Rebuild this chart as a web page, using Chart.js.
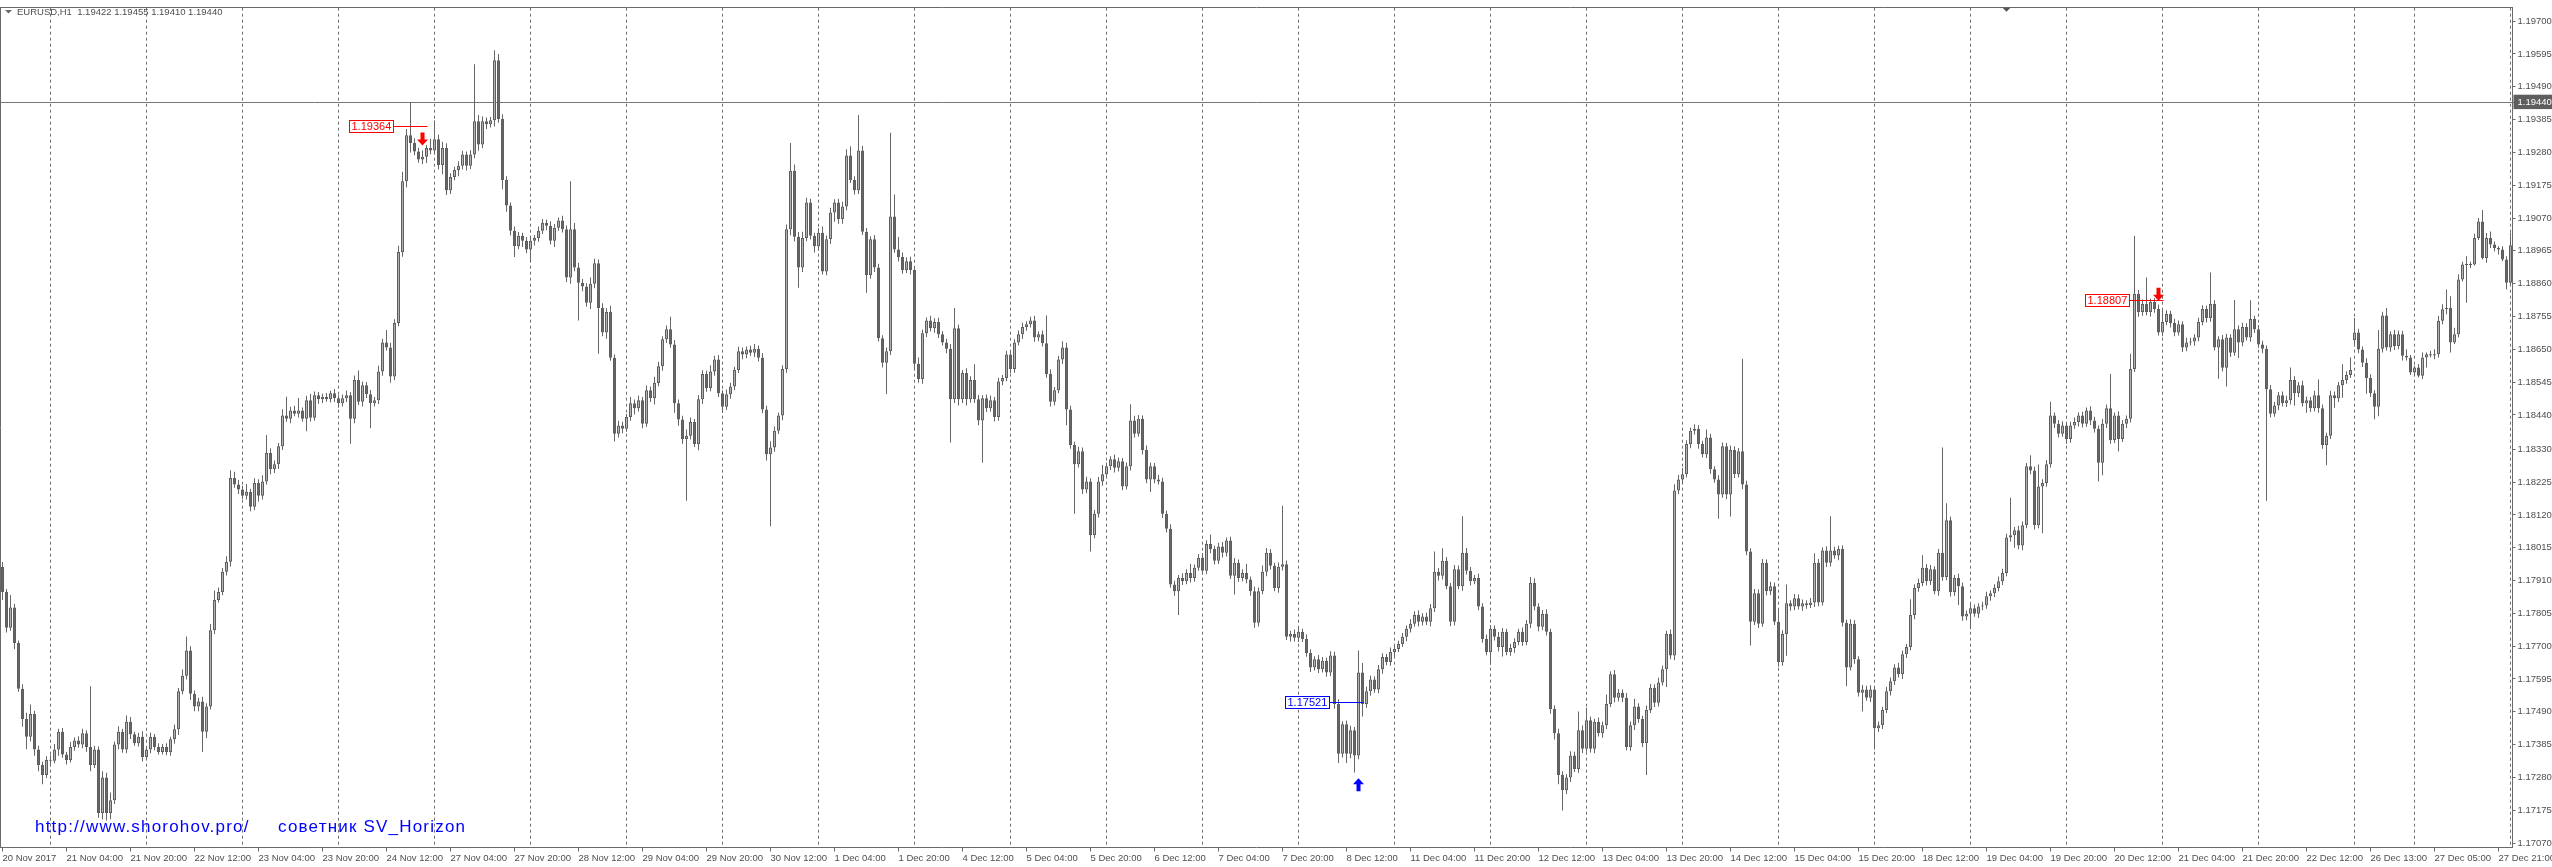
<!DOCTYPE html>
<html>
<head>
<meta charset="utf-8">
<title>EURUSD,H1</title>
<script src="https://cdn.jsdelivr.net/npm/chart.js@4.4.0/dist/chart.umd.min.js"></script>
<style>
  html, body { margin: 0; padding: 0; background: #ffffff; }
  canvas { display: block; }
</style>
</head>
<body>
<canvas id="chart" width="2552" height="867"></canvas>
<script>
// EURUSD H1 bars, values in points above 1.17000 (1 point = 0.00001)
const basePrice = 1.17;

const opens = [
  954,873,759,824,710,564,467,410,483,369,
  320,288,336,333,369,426,353,336,377,398,
  385,421,377,320,369,166,280,166,207,385,
  426,369,458,418,389,410,345,369,410,377,
  361,377,361,402,434,556,605,686,548,507,
  523,426,507,751,848,873,938,970,1238,1217,
  1201,1181,1194,1146,1222,1181,1227,1318,1266,1282,
  1340,1438,1428,1454,1444,1454,1428,1487,1431,1503,
  1490,1498,1490,1509,1493,1477,1493,1503,1428,1552,
  1482,1535,1506,1477,1487,1579,1672,1656,1563,1734,
  1961,2188,2335,2310,2283,2257,2266,2294,2286,2322,
  2240,2294,2159,2201,2224,2237,2273,2237,2273,2380,
  2305,2380,2370,2383,2575,2387,2192,2110,2029,1980,
  2013,1997,1969,1997,2006,2029,2055,2045,1997,2039,
  2062,2034,1880,2034,1912,1863,1851,1799,1860,1925,
  1782,1704,1769,1623,1380,1406,1396,1433,1477,1461,
  1487,1412,1519,1493,1542,1596,1682,1714,1665,1477,
  1425,1363,1373,1417,1347,1490,1571,1526,1579,1617,
  1509,1466,1506,1531,1584,1644,1633,1649,1639,1652,
  1623,1457,1314,1336,1389,1438,1587,2034,2221,2010,
  1912,2006,2120,2013,1980,2023,1899,2002,2088,2120,
  2067,2107,2270,2192,2159,2286,2026,1888,2002,1912,
  1685,1607,1644,2075,1969,1945,1904,1932,1904,1604,
  1555,1701,1742,1717,1737,1698,1672,1652,1490,1717,
  1490,1574,1490,1552,1490,1422,1493,1461,1487,1433,
  1547,1558,1633,1587,1672,1698,1721,1730,1742,1688,
  1698,1669,1571,1482,1519,1617,1656,1457,1344,1282,
  1324,1201,1227,1055,1124,1227,1250,1276,1298,1271,
  1292,1211,1276,1422,1380,1428,1328,1233,1276,1233,
  1227,1124,1076,897,876,918,908,934,918,951,
  983,941,1027,1011,973,1019,999,1038,925,967,
  918,934,913,876,775,876,938,999,957,886,
  954,962,730,739,727,746,723,678,632,658,
  626,653,616,670,515,356,450,356,431,350,
  616,515,556,593,561,626,665,649,681,691,
  707,730,756,772,800,778,795,778,821,938,
  925,973,892,778,946,892,999,941,908,918,
  827,723,681,756,730,697,746,681,694,713,
  746,713,772,902,827,762,804,746,499,421,
  288,239,280,350,307,431,372,463,372,458,
  421,447,515,610,535,551,535,377,447,507,
  467,389,496,567,519,584,626,739,670,1198,
  1233,1250,1347,1389,1396,1347,1314,1368,1266,1233,
  1185,1340,1185,1328,1250,1324,1217,1003,778,869,
  772,967,876,892,778,649,739,837,827,853,
  827,837,832,840,967,840,1006,967,1006,990,
  1011,775,632,772,658,551,561,535,561,437,
  447,496,556,588,632,610,674,697,800,886,
  902,951,908,946,876,999,921,1103,873,918,
  892,795,804,821,804,827,830,860,869,886,
  908,934,1048,1055,1071,1022,1087,1276,1262,1087,
  1211,1222,1282,1438,1412,1380,1406,1363,1406,1417,
  1438,1412,1454,1422,1396,1287,1412,1461,1360,1438,
  1363,1412,1428,1587,1828,1769,1795,1769,1802,1779,
  1704,1737,1763,1734,1704,1730,1656,1672,1675,1688,
  1737,1779,1750,1795,1656,1682,1591,1688,1639,1714,
  1672,1721,1688,1747,1714,1665,1652,1522,1444,1470,
  1503,1477,1487,1552,1509,1535,1477,1487,1461,1503,
  1461,1344,1373,1503,1493,1535,1552,1568,1680,1704,
  1649,1607,1558,1509,1466,1652,1758,1656,1698,1660,
  1698,1629,1624,1576,1592,1565,1624,1634,1630,1634,
  1741,1778,1783,1672,1698,1873,1921,1920,1921,2006,
  2059,1942,2006,1985,1974,1969,1937,1863
];

const closes = [
  873,759,824,710,564,467,410,483,369,320,
  288,336,333,369,426,353,336,377,398,385,
  421,377,320,369,166,280,166,207,385,426,
  369,458,418,389,410,345,369,410,377,361,
  377,361,402,434,556,605,686,548,507,523,
  426,507,751,848,873,938,970,1238,1217,1201,
  1181,1194,1146,1222,1181,1227,1318,1266,1282,1340,
  1438,1428,1454,1444,1454,1428,1487,1431,1503,1490,
  1498,1490,1509,1493,1477,1493,1503,1428,1552,1482,
  1535,1506,1477,1487,1579,1672,1656,1563,1734,1961,
  2188,2335,2310,2283,2257,2266,2294,2286,2322,2240,
  2294,2159,2201,2224,2237,2273,2237,2273,2380,2305,
  2380,2370,2383,2575,2387,2192,2110,2029,1980,2013,
  1997,1969,1997,2006,2029,2055,2045,1997,2039,2062,
  2034,1880,2034,1912,1863,1851,1799,1860,1925,1782,
  1704,1769,1623,1380,1406,1396,1433,1477,1461,1487,
  1412,1519,1493,1542,1596,1682,1714,1665,1477,1425,
  1363,1373,1417,1347,1490,1571,1526,1579,1617,1509,
  1466,1506,1531,1584,1644,1633,1649,1639,1652,1623,
  1457,1314,1336,1389,1438,1587,2034,2221,2010,1912,
  2006,2120,2013,1980,2023,1899,2002,2088,2120,2067,
  2107,2270,2192,2159,2286,2026,1888,2002,1912,1685,
  1607,1644,2075,1969,1945,1904,1932,1904,1604,1555,
  1701,1742,1717,1737,1698,1672,1652,1490,1717,1490,
  1574,1490,1552,1490,1422,1493,1461,1487,1433,1547,
  1558,1633,1587,1672,1698,1721,1730,1742,1688,1698,
  1669,1571,1482,1519,1617,1656,1457,1344,1282,1324,
  1201,1227,1055,1124,1227,1250,1276,1298,1271,1292,
  1211,1276,1422,1380,1428,1328,1233,1276,1233,1227,
  1124,1076,897,876,918,908,934,918,951,983,
  941,1027,1011,973,1019,999,1038,925,967,918,
  934,913,876,775,876,938,999,957,886,954,
  962,730,739,727,746,723,678,632,658,626,
  653,616,670,515,356,450,356,431,350,616,
  515,556,593,561,626,665,649,681,691,707,
  730,756,772,800,778,795,778,821,938,925,
  973,892,778,946,892,999,941,908,918,827,
  723,681,756,730,697,746,681,694,713,746,
  713,772,902,827,762,804,746,499,421,288,
  239,280,350,307,431,372,463,372,458,421,
  447,515,610,535,551,535,377,447,507,467,
  389,496,567,519,584,626,739,670,1198,1233,
  1250,1347,1389,1396,1347,1314,1368,1266,1233,1185,
  1340,1185,1328,1250,1324,1217,1003,778,869,772,
  967,876,892,778,649,739,837,827,853,827,
  837,832,840,967,840,1006,967,1006,990,1011,
  775,632,772,658,551,561,535,561,437,447,
  496,556,588,632,610,674,697,800,886,902,
  951,908,946,876,999,921,1103,873,918,892,
  795,804,821,804,827,830,860,869,886,908,
  934,1048,1055,1071,1022,1087,1276,1262,1087,1211,
  1222,1282,1438,1412,1380,1406,1363,1406,1417,1438,
  1412,1454,1422,1396,1287,1412,1461,1360,1438,1363,
  1412,1428,1587,1828,1769,1795,1769,1802,1779,1704,
  1737,1763,1734,1704,1730,1656,1672,1675,1688,1737,
  1779,1750,1795,1656,1682,1591,1688,1639,1714,1672,
  1721,1688,1747,1714,1665,1652,1522,1444,1470,1503,
  1477,1487,1552,1509,1535,1477,1487,1461,1503,1461,
  1344,1373,1503,1493,1535,1552,1568,1584,1704,1649,
  1607,1558,1509,1466,1652,1758,1656,1698,1660,1698,
  1629,1624,1576,1592,1565,1624,1634,1630,1634,1741,
  1778,1783,1672,1698,1873,1921,1920,1921,2006,2059,
  1942,2006,1985,1974,1969,1937,1863,1983
];

// shadow lengths above / below the body, in points
const upperWick = [
  15,10,40,12,8,14,20,30,10,12,
  10,12,15,18,10,12,8,16,10,14,
  15,10,195,12,10,20,15,25,10,18,
  10,20,15,8,12,18,10,14,9,12,
  10,12,8,15,10,20,45,14,10,12,
  15,10,20,30,15,12,18,25,20,15,
  12,25,10,15,12,20,58,15,12,10,
  20,60,12,15,40,10,14,20,12,10,
  10,12,8,14,10,12,15,10,14,30,
  12,10,14,10,18,12,40,15,12,20,
  30,20,105,15,12,20,10,30,60,15,
  20,15,12,10,15,12,10,14,182,20,
  15,12,10,32,20,15,12,10,14,12,
  10,12,15,10,14,12,10,15,12,10,
  15,12,154,20,15,12,10,20,15,12,
  15,12,20,10,15,12,10,20,12,15,
  10,15,12,20,14,10,12,40,15,12,
  12,20,15,10,14,12,10,20,12,15,
  10,15,12,10,14,12,10,12,15,10,
  15,12,20,14,10,12,15,89,20,15,
  20,15,12,10,14,20,12,15,10,12,
  15,20,30,12,114,15,12,10,14,12,
  10,12,268,70,40,15,12,14,10,20,
  12,10,15,12,14,10,12,15,65,12,
  10,15,12,50,14,10,12,15,10,12,
  10,12,15,10,12,14,10,12,15,10,
  12,89,15,10,12,20,15,12,10,14,
  12,15,10,12,14,30,12,10,15,12,
  10,12,52,15,12,10,14,12,10,15,
  12,10,14,12,10,15,12,30,10,12,
  15,12,30,10,12,14,10,12,15,10,
  12,30,10,14,12,20,15,12,10,14,
  187,12,10,14,12,10,15,12,10,14,
  12,10,14,12,15,10,12,14,10,70,
  30,15,12,10,14,12,10,15,12,10,
  12,10,14,12,15,10,12,14,65,12,
  40,12,10,14,12,117,15,12,10,14,
  10,14,12,10,15,12,10,14,12,10,
  14,12,19,15,10,12,14,10,12,15,
  12,10,14,12,60,15,40,12,10,14,
  12,30,10,14,12,10,15,12,25,10,
  10,14,12,10,15,12,10,14,20,15,
  20,12,10,14,12,10,25,12,10,14,
  12,10,14,12,10,296,12,10,14,12,
  12,10,14,12,40,12,60,10,14,12,
  12,10,14,30,12,10,14,110,12,10,
  12,10,14,12,10,15,12,14,10,12,
  10,14,12,10,15,12,10,50,12,14,
  40,12,14,10,12,337,54,12,10,14,
  12,10,14,12,10,12,14,10,12,15,
  14,12,120,10,14,12,10,35,12,70,
  12,14,44,10,12,14,10,12,15,10,
  12,10,14,12,10,15,12,110,10,14,
  12,10,49,185,12,14,85,10,12,14,
  40,12,10,14,12,10,15,12,10,14,
  12,10,101,12,10,14,12,10,94,12,
  14,12,60,10,14,12,10,14,12,10,
  12,14,40,12,10,14,12,10,14,50,
  12,10,14,12,10,50,12,40,46,12,
  10,14,12,10,60,12,24,10,14,12,
  11,21,8,5,11,16,6,11,16,16,
  16,58,37,21,17,9,27,9,14,11,
  37,16,21,10,6,11,11,39
];

const lowerWick = [
  25,15,10,20,10,25,40,15,20,20,
  30,10,12,8,20,10,15,8,12,10,
  12,15,20,10,15,20,24,20,12,15,
  10,12,15,8,10,14,9,12,10,8,
  8,10,12,14,18,10,12,20,15,15,
  65,20,10,12,8,10,12,15,10,14,
  10,12,14,10,18,12,10,16,12,15,
  12,10,15,8,12,10,40,12,10,14,
  12,8,10,12,14,10,12,80,15,10,
  15,12,80,10,12,14,10,20,12,10,
  15,20,30,12,10,14,20,12,10,15,
  30,15,12,10,20,12,15,10,12,20,
  12,15,10,20,12,30,20,15,35,10,
  20,12,40,15,12,10,14,12,20,10,
  10,15,20,12,121,15,12,20,15,146,
  12,20,10,25,12,15,10,12,20,10,
  15,10,12,20,10,15,12,10,30,20,
  15,198,12,10,20,15,12,10,14,12,
  20,10,14,12,10,15,12,10,14,12,
  12,20,230,14,10,15,12,20,15,65,
  15,10,12,20,14,10,12,15,30,15,
  15,12,10,14,12,10,57,12,15,10,
  15,100,12,10,14,12,10,15,20,12,
  15,12,10,14,12,10,15,138,12,20,
  12,20,10,12,15,135,12,10,14,12,
  12,10,14,12,10,15,12,10,14,12,
  10,12,15,12,10,14,50,12,158,10,
  14,12,52,10,12,14,10,12,15,12,
  12,10,14,12,10,15,12,40,12,10,
  14,12,10,15,76,12,10,14,12,10,
  12,10,14,12,10,15,12,10,60,12,
  10,12,15,16,12,10,14,12,10,15,
  12,10,15,12,14,10,12,15,10,12,
  10,14,12,15,30,12,30,15,54,12,
  40,12,15,10,12,14,10,12,15,10,
  10,14,12,10,15,12,10,14,12,15,
  12,10,14,12,10,15,12,14,10,12,
  12,10,40,12,14,30,10,12,15,10,
  12,10,15,12,14,10,12,15,20,30,
  65,12,15,10,12,14,10,12,15,10,
  14,12,10,15,12,14,10,12,15,12,
  12,101,10,14,12,10,57,12,15,12,
  12,10,14,12,15,10,12,14,10,77,
  10,14,70,12,10,15,12,76,10,14,
  10,14,12,10,15,12,70,14,12,10,
  14,12,10,15,12,10,14,12,10,15,
  12,60,10,14,12,60,10,14,68,12,
  12,10,14,12,10,15,12,10,14,12,
  10,14,12,10,15,12,10,14,12,60,
  14,12,50,10,14,12,10,15,12,10,
  12,10,14,40,12,15,10,12,14,10,
  150,12,10,14,12,10,15,12,10,14,
  12,10,14,12,60,40,14,12,10,40,
  10,14,12,10,15,12,10,14,12,10,
  12,10,14,12,10,15,12,10,14,12,
  10,14,12,10,100,12,60,14,10,50,
  12,10,14,12,10,15,357,12,10,14,
  10,12,14,40,12,10,30,12,10,14,
  12,65,10,30,12,40,12,10,14,12,
  14,50,12,40,30,12,10,14,12,10,
  15,10,8,11,5,10,32,6,12,10,
  11,16,32,5,10,6,121,10,3,6,
  5,15,11,11,16,5,21,6
];

// time axis: one label every 16 hourly bars, starting at bar 0
const timeLabels = [
  '20 Nov 2017', '21 Nov 04:00', '21 Nov 20:00', '22 Nov 12:00', '23 Nov 04:00',
  '23 Nov 20:00', '24 Nov 12:00', '27 Nov 04:00', '27 Nov 20:00', '28 Nov 12:00',
  '29 Nov 04:00', '29 Nov 20:00', '30 Nov 12:00', '1 Dec 04:00', '1 Dec 20:00',
  '4 Dec 12:00', '5 Dec 04:00', '5 Dec 20:00', '6 Dec 12:00', '7 Dec 04:00',
  '7 Dec 20:00', '8 Dec 12:00', '11 Dec 04:00', '11 Dec 20:00', '12 Dec 12:00',
  '13 Dec 04:00', '13 Dec 20:00', '14 Dec 12:00', '15 Dec 04:00', '15 Dec 20:00',
  '18 Dec 12:00', '19 Dec 04:00', '19 Dec 20:00', '20 Dec 12:00', '21 Dec 04:00',
  '21 Dec 20:00', '22 Dec 12:00', '26 Dec 13:00', '27 Dec 05:00', '27 Dec 21:00'
];
const labelStep = 16;

// bar index of the first hour of each day (dotted grid)
const dayStarts = [12, 36, 60, 84, 108, 132, 156, 180, 204, 228, 252, 276, 300, 324,
  348, 372, 396, 420, 444, 468, 492, 516, 540, 564, 588, 603, 627];

const priceTicks = [
  1.17070, 1.17175, 1.17280, 1.17385, 1.17490, 1.17595, 1.17700, 1.17805, 1.17910,
  1.18015, 1.18120, 1.18225, 1.18330, 1.18440, 1.18545, 1.18650, 1.18755, 1.18860,
  1.18965, 1.19070, 1.19175, 1.19280, 1.19385, 1.19490, 1.19595, 1.19700
];
const priceMin = 1.170557;
const priceMax = 1.197430;
const bidPrice = 1.1944;

const headerText = 'EURUSD,H1  1.19422 1.19455 1.19410 1.19440';
const siteText = 'http://www.shorohov.pro/';
const advisorText = 'советник SV_Horizon';

// signals of the advisor
const signalBars = [105, 339, 539];
const signalPrices = [1.19364, 1.17521, 1.18807];
const signalArrowTips = [1.19302, 1.17277, 1.18805];
const signalColors = ['#ff0000', '#0000ff', '#ff0000'];
const signalUp = [false, true, false];

// chart shift marker on the top edge (bar index)
const shiftBar = 501;

const FONT = '"Liberation Sans", Arial, sans-serif';
const AXIS_COLOR = '#6a6a6a';
const TEXT_COLOR = '#4e4e4e';

Chart.defaults.font.family = FONT;
Chart.defaults.font.size = 9.5;

const toPrice = p => +(basePrice + p / 1e5).toFixed(5);
const hours = closes.map((c, i) => i);
const bodies = closes.map((c, i) => [toPrice(Math.min(opens[i], c)), toPrice(Math.max(opens[i], c))]);
const shadows = closes.map((c, i) => [
  toPrice(Math.min(opens[i], c) - lowerWick[i]),
  toPrice(Math.max(opens[i], c) + upperWick[i])
]);
const bodyColors = closes.map((c, i) => c >= opens[i] ? '#b2b2b2' : '#666666');

function drawArrow(ctx, cx, tipY, up, color) {
  const d = up ? 1 : -1;
  ctx.fillStyle = color;
  ctx.beginPath();
  ctx.moveTo(cx, tipY);
  ctx.lineTo(cx + 5.5, tipY + d * 6);
  ctx.lineTo(cx + 2, tipY + d * 6);
  ctx.lineTo(cx + 2, tipY + d * 13);
  ctx.lineTo(cx - 2, tipY + d * 13);
  ctx.lineTo(cx - 2, tipY + d * 6);
  ctx.lineTo(cx - 5.5, tipY + d * 6);
  ctx.closePath();
  ctx.fill();
}

const mt4Marks = {
  id: 'mt4Marks',
  afterDraw(chart) {
    const { ctx, scales, chartArea } = chart;
    const x = scales.x, y = scales.y;
    ctx.save();

    // symbol header
    ctx.fillStyle = '#6a6a6a';
    ctx.beginPath();
    ctx.moveTo(5, 10);
    ctx.lineTo(12, 10);
    ctx.lineTo(8.5, 13.5);
    ctx.closePath();
    ctx.fill();
    ctx.font = '9.5px ' + FONT;
    ctx.fillStyle = TEXT_COLOR;
    ctx.textBaseline = 'middle';
    ctx.textAlign = 'left';
    ctx.fillText(headerText, 17, 12);

    // chart shift marker
    const sx = x.getPixelForValue(shiftBar);
    ctx.fillStyle = '#555555';
    ctx.beginPath();
    ctx.moveTo(sx - 4, chartArea.top);
    ctx.lineTo(sx + 4, chartArea.top);
    ctx.lineTo(sx, chartArea.top + 4);
    ctx.closePath();
    ctx.fill();

    // signal labels, lines and arrows
    signalBars.forEach((bar, k) => {
      const px = x.getPixelForValue(bar);
      const py = Math.round(y.getPixelForValue(signalPrices[k])) + 0.5;
      const lineStart = Math.round(px - 30) + 0.5;
      const lineEnd = px + 5;
      ctx.font = '11px ' + FONT;
      const text = signalPrices[k].toFixed(5);
      const w = Math.ceil(ctx.measureText(text).width) + 4;
      ctx.fillStyle = '#ffffff';
      ctx.fillRect(lineStart - w, py - 6, w, 12);
      ctx.strokeStyle = signalColors[k];
      ctx.lineWidth = 1;
      ctx.strokeRect(lineStart - w, py - 6, w, 12);
      ctx.beginPath();
      ctx.moveTo(lineStart, py);
      ctx.lineTo(lineEnd, py);
      ctx.stroke();
      ctx.fillStyle = signalColors[k];
      ctx.textBaseline = 'middle';
      ctx.fillText(text, lineStart - w + 2, py + 0.5);
      drawArrow(ctx, px, y.getPixelForValue(signalArrowTips[k]), signalUp[k], signalColors[k]);
    });

    // advisor caption
    ctx.font = '17px ' + FONT;
    if ('letterSpacing' in ctx) ctx.letterSpacing = '1.2px';
    ctx.fillStyle = '#0000ff';
    ctx.textBaseline = 'alphabetic';
    ctx.fillText(siteText, 35, 832);
    ctx.fillText(advisorText, 278, 832);
    ctx.restore();
  }
};

new Chart(document.getElementById('chart'), {
  type: 'bar',
  data: {
    labels: hours,
    datasets: [
      {
        label: 'shadow',
        data: shadows,
        xAxisID: 'x',
        yAxisID: 'y',
        backgroundColor: '#666666',
        borderWidth: 0,
        barThickness: 1,
        inflateAmount: 0,
        grouped: false,
        order: 2
      },
      {
        label: 'body',
        data: bodies,
        xAxisID: 'x',
        yAxisID: 'y',
        backgroundColor: bodyColors,
        borderColor: '#5e5e5e',
        borderWidth: 1,
        borderSkipped: false,
        barThickness: 3,
        minBarLength: 1,
        inflateAmount: 0,
        grouped: false,
        order: 1
      }
    ]
  },
  options: {
    responsive: false,
    animation: false,
    devicePixelRatio: 1,
    events: [],
    layout: { padding: 0 },
    plugins: {
      legend: { display: false },
      tooltip: { enabled: false },
      title: { display: false }
    },
    scales: {
      x: {
        type: 'category',
        position: 'bottom',
        offset: true,
        grid: {
          offset: false,
          drawOnChartArea: true,
          color: ctx => dayStarts.includes(ctx.index) ? '#707070' : 'rgba(0,0,0,0)',
          lineWidth: 1,
          borderDash: [3, 3],
          tickColor: ctx => ctx.index % labelStep === 0 ? AXIS_COLOR : 'rgba(0,0,0,0)',
          tickLength: 4,
          tickWidth: 1,
          tickBorderDash: []
        },
        border: { display: true, color: AXIS_COLOR, dash: [3, 3] },
        ticks: {
          autoSkip: false,
          maxRotation: 0,
          minRotation: 0,
          align: 'start',
          padding: 1,
          color: TEXT_COLOR,
          font: { size: 9.5 },
          callback: (v, i) => i % labelStep === 0 ? timeLabels[i / labelStep] : ''
        },
        afterFit: axis => { axis.height = 19.5; }
      },
      xTop: {
        type: 'category',
        position: 'top',
        offset: true,
        grid: { display: false, drawTicks: false },
        ticks: { display: false },
        border: { display: true, color: AXIS_COLOR },
        afterFit: axis => { axis.height = 3.5; }
      },
      yLeft: {
        type: 'linear',
        position: 'left',
        min: 0,
        max: 1,
        grid: { display: false, drawTicks: false },
        ticks: { display: false },
        border: { display: true, color: AXIS_COLOR },
        afterFit: axis => { axis.width = 0.5; }
      },
      y: {
        type: 'linear',
        position: 'right',
        min: priceMin,
        max: priceMax,
        afterBuildTicks: axis => {
          axis.ticks = priceTicks.concat([bidPrice]).map(v => ({ value: v }));
        },
        grid: {
          drawOnChartArea: true,
          color: ctx => (ctx.tick && ctx.tick.value === bidPrice) ? '#777777' : 'rgba(0,0,0,0)',
          lineWidth: 1,
          tickColor: AXIS_COLOR,
          tickLength: 3
        },
        border: { display: true, color: AXIS_COLOR },
        ticks: {
          autoSkip: false,
          padding: 2,
          font: { size: 9.5 },
          color: ctx => (ctx.tick && ctx.tick.value === bidPrice) ? '#ffffff' : TEXT_COLOR,
          showLabelBackdrop: ctx => !!(ctx.tick && ctx.tick.value === bidPrice),
          backdropColor: '#5e5e5e',
          backdropPadding: { top: 2, bottom: 1, left: 4, right: 8 },
          callback: v => v.toFixed(5)
        },
        afterFit: axis => { axis.width = 39.5; }
      }
    }
  },
  plugins: [mt4Marks]
});
</script>
</body>
</html>
